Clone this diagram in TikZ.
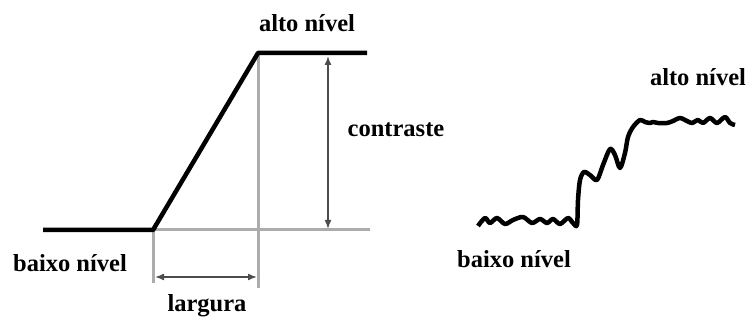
\documentclass[tikz,border=0pt]{standalone}
\usepackage{fontspec}
\setmainfont{Liberation Serif}
\usetikzlibrary{arrows.meta, positioning}

\tikzset{
    rotulo/.style={font=\fontsize{24.5}{28}\selectfont\bfseries, inner sep=0pt},
    sinal/.style={line width=4.5pt, black, line join=round},
    guia/.style={line width=3pt, gray!65},
    cota/.style={line width=1.6pt, black!70, {Latex[length=9pt,width=7pt]}-{Latex[length=9pt,width=7pt]}}
}

\begin{document}
\begin{tikzpicture}[x=1pt, y=-1pt]
        \useasboundingbox (0,0) rectangle (750,320);

        % Pontos do degrau ideal
        \coordinate (ini) at (43,230);
        \coordinate (pe) at (153,230);
        \coordinate (topo) at (258,53);
        \coordinate (fim) at (367,53);
        \coordinate (ref) at (370,230);

        % Linhas guia (cinza)
        \draw[guia] (pe) -- (ref);
        \draw[guia] (pe) -- (153,283) coordinate (pebaixo);
        \draw[guia] (258,53) -- (258,288) coordinate (topobaixo);

        % Degrau
        \draw[sinal] (ini) -- (pe) -- (topo) -- (fim);

        % Cotas
        \coordinate (c1) at (328,56);
        \coordinate (c2) at (328,229);
        \draw[cota] (c1) -- (c2);
        \coordinate (l1) at (155,277);
        \coordinate (l2) at (257,277);
        \draw[cota] (l1) -- (l2);

        % Rotulos
        \node[rotulo] (alto) at (307,23) {alto nível};
        \node[rotulo] (baixo) at (70,263) {baixo nível};
        \node[rotulo] (contr) at (396,130) {contraste};
        \node[rotulo] (larg) at (207,306) {largura};

        % Sinal real com ruido
        \draw[sinal] plot[smooth, tension=0.5] coordinates {
            (478,226) (485,218) (490,223) (497,218) (505,224) (513,220)
            (523,217) (532,223) (540,219) (547,223) (553,219) (560,224)
            (568,218) (573,223) (577,225) (578,200) (580,180) (584,172)
            (590,175) (597,180) (603,165) (610,149) (615,155) (620,168)
            (625,153) (628,137) (633,127) (640,120) (645,122) (650,123)
            (653,122) (658,123) (667,123) (673,121) (680,118) (687,121)
            (692,123) (698,120) (703,123) (710,118) (717,123) (725,117)
            (730,123) (735,125)};

        \node[rotulo] (baixo2) at (514,259) {baixo nível};
        \node[rotulo] (alto2) at (698,77) {alto nível};
\end{tikzpicture}
\end{document}
